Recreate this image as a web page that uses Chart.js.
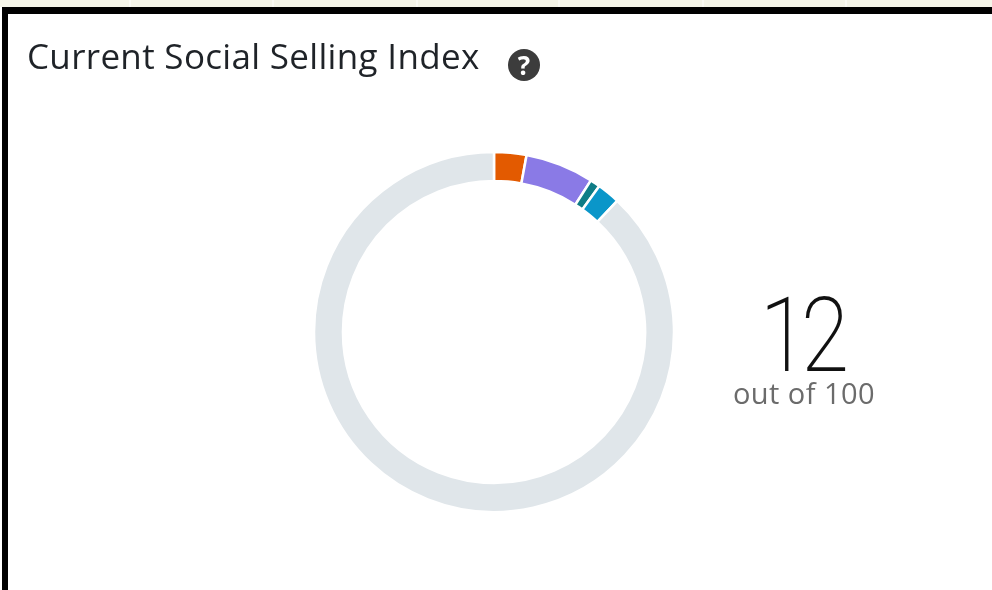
<!DOCTYPE html>
<html>
<head>
<meta charset="utf-8">
<script src="https://cdn.jsdelivr.net/npm/chart.js@4/dist/chart.umd.min.js"></script>
<style>
html,body{margin:0;padding:0;width:992px;height:590px;overflow:hidden;background:#fff}
#strip{position:absolute;left:0;top:0;width:992px;height:7px;background:#f5f5e9}
#strip i{position:absolute;top:0;width:2px;height:7px;background:#fbfbf5}
#frameTop{position:absolute;left:2px;top:7px;width:990px;height:7px;background:#000}
#frameLeft{position:absolute;left:2px;top:7px;width:6px;height:583px;background:#000}
#title{position:absolute;left:27px;top:33px;font:35px "Open Sans",sans-serif;color:#1f2328;white-space:nowrap;letter-spacing:.32px;line-height:46px;filter:blur(.4px)}
#help{position:absolute;left:508px;top:49px;width:32px;height:32px;border-radius:50%;background:#3c3c3c;color:#fff;font:bold 26px/32px "Open Sans",sans-serif;text-align:center;filter:blur(.4px)}
#big{position:absolute;left:701px;width:200px;top:276px;text-align:center;font:200 104px/120px Roboto,sans-serif;color:#111;letter-spacing:-8px;transform:scaleX(.84);transform-origin:50% 50%;filter:blur(.4px)}
#sub{position:absolute;left:704px;width:200px;top:374px;text-align:center;font:29px/38px "Open Sans",sans-serif;color:#6b6b6b;letter-spacing:.45px;filter:blur(.4px)}
#wrap{position:absolute;left:314px;top:152px;width:360px;height:360px;filter:blur(.4px)}
</style>
</head>
<body>
<div id="strip"><i style="left:129px"></i><i style="left:272px"></i><i style="left:416px"></i><i style="left:558px"></i><i style="left:702px"></i><i style="left:845px"></i></div>
<div id="frameTop"></div><div id="frameLeft"></div>
<div id="title"></div>
<div id="help">?</div>
<div id="wrap"><canvas id="c" width="360" height="360"></canvas></div>
<div id="big"></div>
<div id="sub"></div>
<script>
const titleText = "Current Social Selling Index";
const scoreText = "12";
const scoreSub = "out of 100";
const categories = ["Establish brand", "Find people", "Engage with insights", "Build relationships", "Remaining"];
const values = [2.9, 6.15, 0.9, 2.05, 88];
const colors = ["#e35a00", "#8a7ae6", "#0e7c86", "#0a96c9", "#e0e6ea"];

document.getElementById("title").textContent = titleText;
document.getElementById("big").textContent = scoreText;
document.getElementById("sub").textContent = scoreSub;

new Chart(document.getElementById("c"), {
  type: "doughnut",
  data: { labels: categories, datasets: [{ data: values, backgroundColor: colors, borderColor: "#fff", borderWidth: 2.5 }] },
  options: {
    responsive: false, animation: false, radius: 180, cutout: 150,
    layout: { padding: 0 },
    plugins: { legend: { display: false }, tooltip: { enabled: false }, title: { display: false } }
  }
});
</script>
</body>
</html>
